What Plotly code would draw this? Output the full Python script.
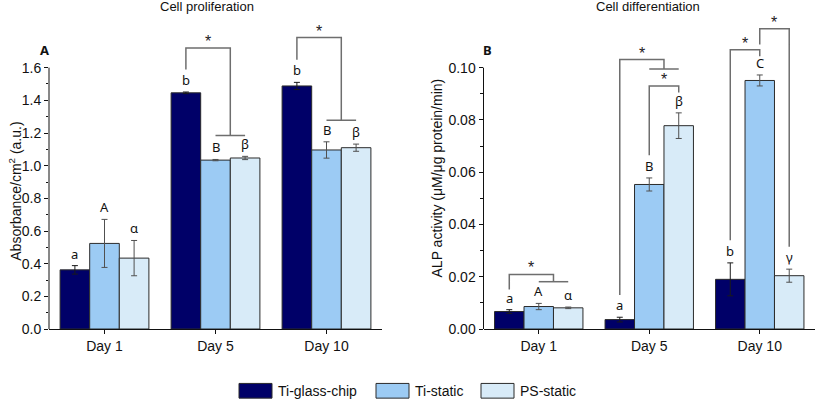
import plotly.graph_objects as go

# ---------------- data ----------------
days = ["Day 1", "Day 5", "Day 10"]
series = ["Ti-glass-chip", "Ti-static", "PS-static"]

prolif_glass = [0.362, 1.446, 1.488]
prolif_glass_err = [0.026, 0.005, 0.022]
prolif_ti = [0.524, 1.034, 1.096]
prolif_ti_err = [0.147, 0.004, 0.050]
prolif_ps = [0.434, 1.047, 1.110]
prolif_ps_err = [0.108, 0.010, 0.022]

alp_glass = [0.0067, 0.0036, 0.0190]
alp_glass_err = [0.0007, 0.0009, 0.0063]
alp_ti = [0.0086, 0.0553, 0.0951]
alp_ti_err = [0.0012, 0.0025, 0.0021]
alp_ps = [0.0081, 0.0778, 0.0204]
alp_ps_err = [0.0003, 0.0049, 0.0025]

prolif_letters = [["a", "A", "α"], ["b", "B", "β"], ["b", "B", "β"]]
alp_letters = [["a", "A", "α"], ["a", "B", "β"], ["b", "C", "γ"]]

# significance brackets: (day, left bar, right bar(s), y_left, y_top, y_right)
# right side given as a single bar index or a pair (group line between them)
prolif_brackets = [
    (1, 0, (1, 2), 1.588, 1.72, 1.184),
    (2, 0, (1, 2), 1.648, 1.784, 1.278),
]
alp_brackets = [
    (0, 0, (1, 2), 0.0151, 0.0209, 0.0181),
    (1, 0, (1, 2), 0.0130, 0.1031, 0.0995),
    (1, 1, 2, 0.0665, 0.0930, 0.0905),
    (2, 0, 1, 0.0340, 0.1069, 0.1044),
    (2, 1, 2, 0.1089, 0.1149, 0.0315),
]

# ---------------- style ----------------
W, H = 817, 413
colors = ["#000068", "#9ccbf4", "#d8ebf8"]
err_colors = ["#1a1a1a", "#505050", "#505050"]
bracket_color = "#6e6e6e"
TICK_FONT = dict(family="Liberation Sans, Arial", size=14, color="#111")
LETTER_FONT = dict(family="Noto Sans, Open Sans", size=13, color="#111")

PLOT_TOP_PX = 20.0
AXIS_TOP_PX = 69.0
AXIS_BOT_PX = 335.5
ydom = [1 - AXIS_BOT_PX / H, 1 - PLOT_TOP_PX / H]
scale = (AXIS_BOT_PX - PLOT_TOP_PX) / (AXIS_BOT_PX - AXIS_TOP_PX)

panels = [
    dict(vals=[prolif_glass, prolif_ti, prolif_ps],
         errs=[prolif_glass_err, prolif_ti_err, prolif_ps_err],
         letters=prolif_letters, brackets=prolif_brackets,
         ymax=1.6, major=0.2, fmt=".1f",
         xdom=[49 / W, 382 / W], xa="x", ya="y"),
    dict(vals=[alp_glass, alp_ti, alp_ps],
         errs=[alp_glass_err, alp_ti_err, alp_ps_err],
         letters=alp_letters, brackets=alp_brackets,
         ymax=0.10, major=0.02, fmt=".2f",
         xdom=[483.5 / W, 815 / W], xa="x2", ya="y2"),
]

fig = go.Figure()
xpos = list(range(len(days)))
nser = len(series)
bargap = 0.2
bw = (1 - bargap) / nser
offs = [(i - (nser - 1) / 2) * bw for i in range(nser)]

shapes = []
annotations = []

for p_i, p in enumerate(panels):
    for s in range(nser):
        fig.add_trace(go.Bar(
            x=xpos, y=p["vals"][s], name=series[s],
            marker=dict(color=colors[s], line=dict(color="#2b2b2b", width=1)),
            error_y=dict(type="data", array=p["errs"][s], color=err_colors[s],
                         thickness=1, width=3),
            xaxis=p["xa"], yaxis=p["ya"], showlegend=False,
            offsetgroup=str(s),
        ))
        for d in range(len(days)):
            annotations.append(dict(
                x=d + offs[s], y=p["vals"][s][d] + p["errs"][s][d],
                xref=p["xa"], yref=p["ya"], text=p["letters"][d][s],
                showarrow=False, xanchor="center", yanchor="bottom", yshift=1,
                font=LETTER_FONT))
    # significance brackets
    for (d, lb, rb, yl, yt, yr) in p["brackets"]:
        xl = d + offs[lb]
        if isinstance(rb, tuple):
            xr = d + (offs[rb[0]] + offs[rb[1]]) / 2
            shapes.append(dict(type="line", xref=p["xa"], yref=p["ya"],
                               x0=d + offs[rb[0]], x1=d + offs[rb[1]], y0=yr, y1=yr,
                               line=dict(color=bracket_color, width=1.5)))
        else:
            xr = d + offs[rb]
        shapes.append(dict(type="path", xref=p["xa"], yref=p["ya"],
                           path=f"M {xl},{yl} L {xl},{yt} L {xr},{yt} L {xr},{yr}",
                           line=dict(color=bracket_color, width=1.5)))
        annotations.append(dict(x=(xl + xr) / 2, y=yt, xref=p["xa"], yref=p["ya"],
                                text="*", showarrow=False, xanchor="center",
                                yanchor="bottom", yshift=-4,
                                font=dict(family="Liberation Sans, Arial", size=16, color="#222")))
    # y axis line only up to ymax
    shapes.append(dict(type="line", xref=p["xa"] + " domain", yref=p["ya"],
                       x0=0, x1=0, y0=0, y1=p["ymax"],
                       line=dict(color="#111", width=1)))

    n_major = int(round(p["ymax"] / p["major"]))
    majors = [round(i * p["major"], 4) for i in range(n_major + 1)]
    minors = [round((i + 0.5) * p["major"], 4) for i in range(n_major)]
    axname_x = "xaxis" if p_i == 0 else "xaxis2"
    axname_y = "yaxis" if p_i == 0 else "yaxis2"
    fig.update_layout(**{
        axname_x: dict(domain=p["xdom"], anchor=p["ya"], range=[-0.5, 2.5],
                       tickvals=xpos, ticktext=days, showline=True, linecolor="#111",
                       linewidth=1, ticks="outside", ticklen=4, tickcolor="#111",
                       showgrid=False, zeroline=False, tickfont=TICK_FONT),
        axname_y: dict(domain=ydom, anchor=p["xa"], range=[0, p["ymax"] * scale],
                       tickvals=majors, tickformat=p["fmt"], ticks="outside",
                       ticklen=4, tickcolor="#111", showline=False, showgrid=False,
                       zeroline=False, tickfont=TICK_FONT,
                       minor=dict(tickvals=minors, ticks="outside", ticklen=2.5,
                                  tickcolor="#111", showgrid=False)),
    })


def paper_text(xpx, ypx, text, font, **kw):
    d = dict(x=xpx / W, y=1 - ypx / H, xref="paper", yref="paper", text=text,
             showarrow=False, xanchor="center", yanchor="middle", font=font)
    d.update(kw)
    return d


TITLE_FONT = dict(family="Liberation Sans, Arial", size=13, color="#111")
PANEL_FONT = dict(family="Noto Sans, Open Sans", size=13, color="#111")
AXT_FONT = dict(family="Liberation Sans, Arial", size=14, color="#111")

annotations += [
    paper_text(206.7, 7, "Cell proliferation", TITLE_FONT),
    paper_text(647.7, 7, "Cell differentiation", TITLE_FONT),
    paper_text(44, 51, "<b>A</b>", PANEL_FONT),
    paper_text(487, 51, "<b>B</b>", PANEL_FONT),
    paper_text(15.5, 195, "Absorbance/cm<sup>2</sup> (a.u.)", AXT_FONT, textangle=-90),
    paper_text(437, 181, "ALP activity (μM/μg protein/min)", AXT_FONT, textangle=-90),
]

# legend (manual, wide swatches)
legend_x = [239, 376, 481]
for s in range(nser):
    x0 = legend_x[s]
    shapes.append(dict(type="rect", xref="paper", yref="paper",
                       x0=x0 / W, x1=(x0 + 33) / W, y0=1 - 406 / H, y1=1 - 391 / H,
                       fillcolor=colors[s], line=dict(color="#2b2b2b", width=1)))
    annotations.append(paper_text(x0 + 37, 398.5, series[s],
                                  dict(family="Liberation Sans, Arial", size=14, color="#111"),
                                  xanchor="left"))

fig.update_layout(
    width=W, height=H, margin=dict(l=0, r=0, t=0, b=0),
    paper_bgcolor="white", plot_bgcolor="white",
    barmode="group", bargap=bargap, bargroupgap=0,
    shapes=shapes, annotations=annotations, showlegend=False,
)

fig.write_html("out.html")
